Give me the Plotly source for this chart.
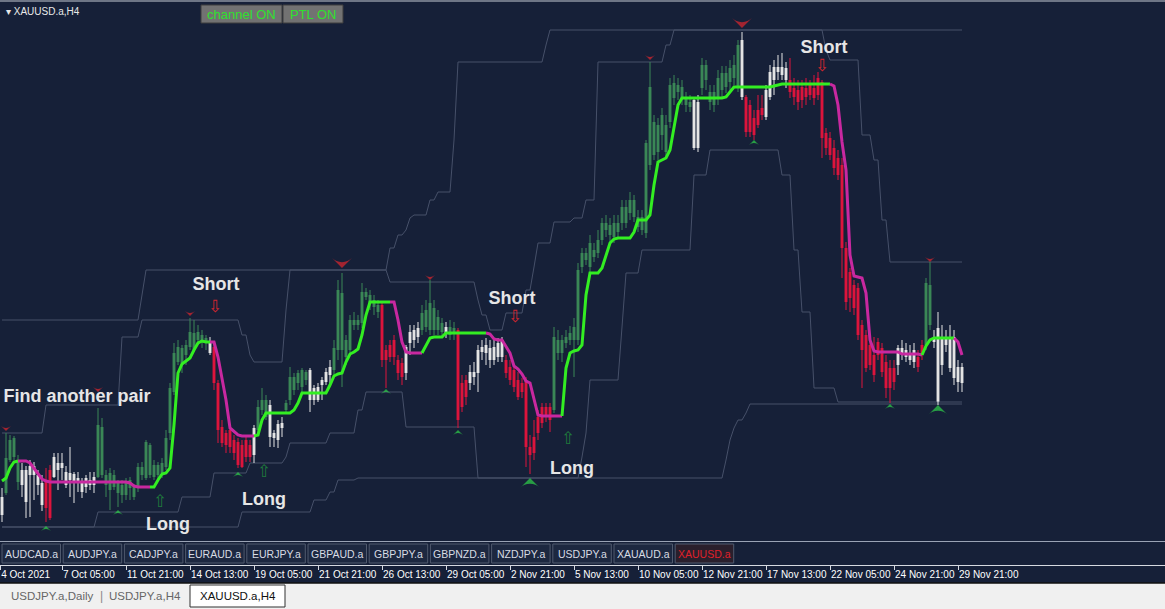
import plotly.graph_objects as go

W, H = 1165, 609
NAVY = "#162038"
GREEN_C = "#3b8757"
WHITE_C = "#e4e4e4"
RED_C = "#dc143c"
PTL_UP = "#33ee22"
PTL_DN = "#c828a0"
CHAN = "#465069"

# ---------------- data (price points) ----------------
# candle colour class per bar, run-length encoded: (class, count)
candle_class_runs = [("w", 1), ("g", 4), ("w", 6), ("r", 2), ("w", 11), ("g", 28), ("w", 1),
                     ("r", 10), ("w", 1), ("g", 3), ("w", 4), ("g", 6), ("w", 6), ("g", 12),
                     ("r", 6), ("w", 4), ("g", 6), ("w", 1), ("g", 2), ("r", 3), ("w", 9),
                     ("r", 12), ("g", 35), ("w", 2), ("g", 10), ("w", 1), ("r", 5), ("w", 6),
                     ("r", 27), ("w", 5), ("r", 2), ("g", 2), ("w", 8)]

open_ = [103,107,140,143,118,130,130,134,134,125,117,120,130,143,137,137,128,127,126,122,
         118,122,120,123,123,125,115,110,113,107,105,105,112,103,112,125,122,125,123,125,
         127,133,167,208,238,237,245,253,250,260,258,257,258,253,217,173,167,170,160,158,
         155,160,155,145,170,190,183,195,167,176,177,190,200,210,217,213,220,230,212,213,
         220,228,233,230,250,307,243,250,275,275,277,303,297,293,288,295,250,255,260,240,
         237,227,257,260,263,270,273,270,270,270,268,273,265,267,270,217,220,217,223,227,
         248,255,252,253,257,260,240,233,230,220,217,220,153,163,183,193,193,193,190,260,
         247,257,260,260,260,333,347,333,350,347,360,377,365,363,377,377,393,387,400,383,
         370,367,435,478,448,465,475,478,502,515,502,502,493,500,452,512,535,498,508,502,
         510,513,518,522,512,560,503,495,482,490,492,483,503,520,528,533,532,520,512,510,
         513,512,515,512,522,518,467,462,452,442,435,352,328,315,312,275,265,255,245,258,
         252,238,232,232,235,252,250,247,238,243,255,255,275,262,198,262,263,232,263,233,
         217]
high = [112,167,165,164,145,137,134,140,138,130,125,132,135,147,147,147,134,153,128,128,
        122,125,128,128,192,182,130,132,130,120,120,122,123,116,137,138,160,157,140,138,
        142,170,217,257,260,255,260,282,280,275,270,265,263,258,220,180,170,172,165,162,
        160,165,160,175,200,212,205,200,170,180,183,200,233,227,230,232,230,232,215,217,
        223,232,240,260,320,327,265,285,288,285,317,312,310,305,300,298,255,260,265,245,
        242,255,275,275,278,295,300,320,300,290,282,278,280,278,272,225,225,235,238,255,
        260,262,260,260,262,263,245,240,235,228,222,223,165,180,190,197,197,197,273,270,
        265,270,274,282,337,352,352,365,357,370,382,385,382,385,385,400,400,408,405,390,
        390,460,538,485,482,492,485,522,525,522,520,508,505,503,505,542,540,515,515,530,
        534,534,540,545,560,568,505,500,490,505,505,515,535,540,545,547,538,542,522,520,
        520,522,520,525,528,520,472,468,460,450,442,358,332,320,317,280,270,260,263,262,
        257,245,240,240,255,260,257,255,257,250,260,322,338,270,288,275,270,275,270,240,
        237]
low = [78,105,138,140,110,103,82,83,100,105,89,78,80,122,110,120,112,103,97,108,
       102,107,110,107,122,122,103,90,110,93,97,100,100,100,108,120,120,122,120,120,
       122,130,160,205,235,227,235,250,248,255,252,250,245,210,157,153,147,147,140,132,
       132,138,138,137,165,185,180,153,153,152,163,188,195,205,210,208,215,188,195,198,
       200,215,215,225,240,213,235,245,270,270,272,300,290,285,282,233,212,238,235,220,
       215,220,245,252,257,265,268,265,265,265,262,262,260,260,172,188,195,210,215,208,
       240,235,232,235,238,238,222,215,208,200,202,133,126,140,160,172,178,168,187,240,
       238,252,255,223,255,327,335,328,338,342,355,363,355,357,363,370,372,380,378,368,
       365,362,430,440,440,450,442,472,495,500,495,488,488,450,448,505,510,490,488,495,
       503,507,510,515,508,500,463,463,460,472,480,480,500,505,520,520,512,502,495,490,
       492,495,500,495,500,442,445,440,425,420,322,290,288,285,260,212,228,230,218,240,
       223,202,197,210,225,240,238,235,232,228,240,250,270,252,195,225,248,228,215,208,
       208]
close = [85,142,160,162,138,115,98,125,125,115,95,92,82,123,130,132,115,120,118,117,
         108,113,115,115,175,173,125,127,125,117,115,117,120,113,133,133,158,155,135,135,
         137,162,212,247,253,252,255,268,267,268,265,262,247,217,170,157,155,153,147,135,
         133,143,143,172,193,200,200,163,162,160,172,197,223,223,227,230,228,200,200,200,
         215,218,225,252,310,250,260,280,280,280,308,308,305,300,295,240,240,243,243,227,
         223,253,268,270,272,287,290,297,292,283,277,267,273,272,180,193,203,228,228,250,
         253,247,240,240,243,243,227,220,213,203,208,153,145,147,167,177,183,180,263,247,
         260,263,267,273,330,347,340,357,343,360,377,370,375,377,368,393,377,400,383,373,
         383,457,513,445,475,485,448,515,517,508,513,495,498,452,498,535,520,508,495,522,
         527,527,532,535,555,503,468,468,465,475,485,510,528,533,533,525,520,508,503,498,
         500,503,505,502,505,462,452,445,432,425,352,298,302,292,265,250,232,235,225,245,
         228,212,212,218,252,247,243,240,250,233,245,317,315,258,272,235,255,262,222,218,
         233]

# PTL line value per bar, run-length encoded: (value, count)
ptl_value_runs = [(119,1),(122,1),(132,1),(138,1),(139,3),(137,1),(132,1),(126,1),(121,1),(119,1),
                  (118,20),(117,1),(114,1),(113,5),(120,1),(126,1),(127,1),(132,1),(175,1),(227,1),
                  (236,1),(239,1),(242,1),(250,1),(257,1),(259,1),(258,3),(243,1),(223,1),(200,1),
                  (172,1),(168,1),(165,1),(164,4),(165,1),(180,1),(187,7),(190,1),(197,1),(207,7),
                  (215,1),(224,1),(226,1),(227,1),(238,1),(246,1),(248,1),(251,1),(265,1),(285,1),
                  (298,7),(280,1),(258,1),(248,1),(247,4),(255,1),(262,1),(263,3),(267,11),
                  (266,1),(261,1),(260,2),(254,1),(247,1),(234,1),(231,1),(226,1),(219,1),(217,1),
                  (202,1),(185,1),(184,6),(232,1),(247,1),(249,1),(250,1),(255,1),(305,1),(327,3),
                  (332,1),(345,1),(357,1),(361,1),(362,4),(368,1),(380,3),(385,1),(415,1),(438,1),
                  (440,1),(442,1),(450,1),(472,1),(495,1),(502,11),(503,1),(508,1),(513,10),
                  (514,1),(515,1),(516,13),(514,1),(495,1),(458,1),(430,1),(345,1),(324,1),(323,1),
                  (322,1),(307,1),(260,1),(249,1),(248,6),(246,5),(245,1),(254,1),(260,1),(262,6),
                  (258,1),(245,1)]
# PTL trend per bar, run-length encoded: ("u" up / "d" down, count)
ptl_trend_runs = [("u", 5), ("d", 33), ("u", 15), ("d", 11), ("u", 34), ("d", 8), ("u", 16),
                  ("d", 19), ("u", 67), ("d", 23), ("u", 8), ("d", 2)]

# channel lines: (first bar of a run, level)
upper_slow = [(0, 280), (35, 305), (36, 330), (97, 352), (99, 365), (101, 370), (102, 382),
              (103, 385), (107, 400), (109, 408), (113, 460), (114, 538), (136, 555), (137, 570)]
upper_fast = [(0, 167), (11, 195), (30, 263), (35, 280), (60, 265), (62, 245), (63, 238),
              (71, 290), (72, 330), (97, 318), (119, 300), (120, 285), (122, 270), (126, 287),
              (131, 310), (133, 333), (134, 357), (138, 378), (143, 382), (146, 400), (149, 538),
              (166, 555), (168, 570), (206, 550), (207, 540), (215, 465), (218, 440), (220, 380),
              (222, 338)]
lower_fast = [(0, 73), (24, 88), (45, 103), (53, 127), (62, 137), (71, 143), (72, 157),
              (82, 167), (89, 190), (91, 208), (101, 173), (119, 122), (145, 143), (146, 167),
              (147, 220), (155, 273), (156, 327), (160, 350), (173, 425), (177, 450), (195, 425),
              (198, 350), (200, 288), (203, 212), (209, 198)]
lower_slow = [(0, 73), (60, 88), (78, 100), (82, 108), (84, 120), (89, 122), (181, 140),
              (182, 160), (183, 172), (184, 180), (186, 187), (187, 196)]

# signal arrows
sig_dn_bar = [1, 24, 47, 85, 107, 162, 185, 232]
sig_dn_price = [169, 208, 284, 332, 320, 540, 572, 338]
sig_dn_size = [7, 7, 7, 14, 7, 7, 14, 7]
sig_up_bar = [11, 29, 59, 96, 114, 132, 188, 222, 234]
sig_up_price = [74, 90, 128, 211, 170, 122, 460, 196, 195]
sig_up_size = [7, 7, 7, 7, 7, 14, 7, 7, 14]

hollow_up_bar = [39.5, 65.5, 141.5]
hollow_up_price = [97, 127, 160]
hollow_dn_bar = [53.25, 128.25, 205]
hollow_dn_price = [292, 282, 533]

label_text = ["Find another pair", "Short", "Long", "Long", "Short", "Long", "Short"]
label_bar = [18.75, 53.5, 41.5, 65.5, 127.5, 142.5, 205.5]
label_price = [203, 315, 75, 100, 301, 131, 552]

tick_bar = [-0.45, 15, 31, 47, 63, 79, 95, 111, 127, 143, 159, 175, 191, 207, 223, 239]
tick_text = ["4 Oct 2021", "7 Oct 05:00", "11 Oct 21:00", "14 Oct 13:00", "19 Oct 05:00",
             "21 Oct 21:00", "26 Oct 13:00", "29 Oct 05:00", "2 Nov 21:00", "5 Nov 13:00",
             "10 Nov 05:00", "12 Nov 21:00", "17 Nov 13:00", "22 Nov 05:00", "24 Nov 21:00",
             "29 Nov 21:00"]

symbol_tabs = ["AUDCAD.a", "AUDJPY.a", "CADJPY.a", "EURAUD.a", "EURJPY.a", "GBPAUD.a",
               "GBPJPY.a", "GBPNZD.a", "NZDJPY.a", "USDJPY.a", "XAUAUD.a", "XAUUSD.a"]
active_symbol = "XAUUSD.a"
window_tabs = ["USDJPY.a,Daily", "USDJPY.a,H4", "XAUUSD.a,H4"]

n = len(open_)


def rle(runs):
    out = []
    for v, c in runs:
        out += [v] * c
    return out


candle_class = rle(candle_class_runs)
ptl_value = rle(ptl_value_runs)
ptl_trend = rle(ptl_trend_runs)
candle_class = (candle_class + [candle_class[-1]] * n)[:n]
ptl_value = (ptl_value + [ptl_value[-1]] * n)[:n]
ptl_trend = (ptl_trend + [ptl_trend[-1]] * n)[:n]


def expand(runs):
    vals = [None] * n
    for k, (s, v) in enumerate(runs):
        e = runs[k + 1][0] if k + 1 < len(runs) else n
        for i in range(s, min(e, n)):
            vals[i] = v
    return vals


fig = go.Figure()

# channel lines
for runs in (upper_slow, upper_fast, lower_fast, lower_slow):
    fig.add_trace(go.Scatter(x=list(range(n)), y=expand(runs), mode="lines",
                             line=dict(color=CHAN, width=1), hoverinfo="skip",
                             connectgaps=False))

# candles
for cls, col in (("g", GREEN_C), ("w", WHITE_C), ("r", RED_C)):
    ids = [i for i in range(n) if candle_class[i] == cls]
    wx, wy = [], []
    for i in ids:
        wx += [i, i, None]
        wy += [low[i], high[i], None]
    fig.add_trace(go.Scatter(x=wx, y=wy, mode="lines", line=dict(color=col, width=1),
                             hoverinfo="skip"))
    fig.add_trace(go.Bar(x=ids,
                         y=[max(abs(open_[i] - close[i]), 1) for i in ids],
                         base=[min(open_[i], close[i]) for i in ids],
                         width=0.72, marker=dict(color=col, line=dict(width=0)),
                         hoverinfo="skip"))

# PTL line, coloured by trend
start = 0
for i in range(1, n + 1):
    if i == n or ptl_trend[i] != ptl_trend[start]:
        xs = list(range(max(start - 1, 0), i))
        fig.add_trace(go.Scatter(x=xs, y=[ptl_value[j] for j in xs], mode="lines",
                                 line=dict(color=PTL_UP if ptl_trend[start] == "u" else PTL_DN,
                                           width=3), hoverinfo="skip"))
        start = i

# signal arrows
fig.add_trace(go.Scatter(x=sig_dn_bar, y=sig_dn_price, mode="markers",
                         marker=dict(symbol="arrow-wide", angle=180, size=sig_dn_size,
                                     color="#e0262e", line=dict(width=0)), hoverinfo="skip"))
fig.add_trace(go.Scatter(x=sig_up_bar, y=sig_up_price, mode="markers",
                         marker=dict(symbol="arrow-wide", angle=0, size=sig_up_size,
                                     color="#2fd34a", line=dict(width=0)), hoverinfo="skip"))
fig.add_trace(go.Scatter(x=hollow_up_bar, y=hollow_up_price, mode="text", text=["⇧"] * 3,
                         textfont=dict(family="DejaVu Sans", size=17, color="#1f7a3c"),
                         hoverinfo="skip"))
fig.add_trace(go.Scatter(x=hollow_dn_bar, y=hollow_dn_price, mode="text", text=["⇩"] * 3,
                         textfont=dict(family="DejaVu Sans", size=17, color="#d0262e"),
                         hoverinfo="skip"))
fig.add_trace(go.Scatter(x=label_bar, y=label_price, mode="text",
                         text=["<b>%s</b>" % t for t in label_text],
                         textfont=dict(family="Liberation Sans, Arial", size=18, color="#e6e6e6"),
                         hoverinfo="skip"))


# ---------------- chrome ----------------
def PX(x):
    return x / W


def PY(y):
    return 1 - y / H


def text_at(x, y, s, size, color, anchor="center", family="Liberation Sans, Arial"):
    return dict(x=PX(x), y=PY(y), xref="paper", yref="paper", xanchor=anchor,
                yanchor="middle", text=s, showarrow=False,
                font=dict(family=family, size=size, color=color))


shapes = []
ann = []
shapes.append(dict(type="line", xref="paper", yref="paper", x0=0, x1=1, y0=PY(1), y1=PY(1),
                   line=dict(color="#8c93a0", width=1.5), layer="above"))
ann.append(text_at(4, 12, "▾ XAUUSD.a,H4", 10, "#e8e8e8", anchor="left"))
for label, x0, x1 in (("channel ON", 201, 282), ("PTL ON", 283, 343)):
    shapes.append(dict(type="rect", xref="paper", yref="paper", x0=PX(x0), x1=PX(x1),
                       y0=PY(23), y1=PY(5), fillcolor="#727272",
                       line=dict(color="#3c3c3c", width=1), layer="above"))
    ann.append(text_at((x0 + x1) / 2, 14.5, label, 13, "#2fe02f"))

# symbol tab row
shapes.append(dict(type="rect", xref="paper", yref="paper", x0=0, x1=1, y0=PY(564), y1=PY(540),
                   fillcolor=NAVY, line=dict(width=0), layer="above"))
shapes.append(dict(type="line", xref="paper", yref="paper", x0=0, x1=1, y0=PY(541.5),
                   y1=PY(541.5), line=dict(color="#9aa3b5", width=1), layer="above"))
tab_x = 2
for s in symbol_tabs:
    w = 58.5
    act = s == active_symbol
    shapes.append(dict(type="rect", xref="paper", yref="paper", x0=PX(tab_x), x1=PX(tab_x + w),
                       y0=PY(563), y1=PY(544),
                       fillcolor="#2a1f2c" if act else "#1d2840",
                       line=dict(color="#505a6e", width=1), layer="above"))
    ann.append(text_at(tab_x + w / 2, 554, s, 10.5, "#e0202a" if act else "#d8dce4"))
    tab_x += w + 2.7

# date strip below axis
shapes.append(dict(type="rect", xref="paper", yref="paper", x0=0, x1=1, y0=PY(583), y1=PY(565),
                   fillcolor=NAVY, line=dict(width=0), layer="below"))
shapes.append(dict(type="line", xref="paper", yref="paper", x0=0, x1=1, y0=PY(583), y1=PY(583),
                   line=dict(color="#101010", width=1.5), layer="above"))

# window tabs at the bottom
ann.append(text_at(52, 596, window_tabs[0], 11.5, "#666666"))
ann.append(text_at(101, 596, "|", 12, "#888888"))
ann.append(text_at(145, 596, window_tabs[1], 11.5, "#666666"))
shapes.append(dict(type="rect", xref="paper", yref="paper", x0=PX(190), x1=PX(285),
                   y0=PY(607), y1=PY(585), fillcolor="#ffffff",
                   line=dict(color="#303030", width=1), layer="above"))
ann.append(text_at(237.5, 596, window_tabs[2], 11.5, "#111111"))

fig.update_layout(
    width=W, height=H, margin=dict(l=0, r=0, t=0, b=0),
    paper_bgcolor="#f0f0f0", plot_bgcolor=NAVY, showlegend=False, barmode="overlay",
    shapes=shapes, annotations=ann,
    xaxis=dict(range=[-0.5, (W - 2) / 4], showgrid=False, zeroline=False, showline=True,
               linecolor="#d6d9e0", linewidth=1, ticks="outside", ticklen=4,
               tickcolor="#d6d9e0", tickvals=tick_bar, ticktext=tick_text, tickangle=0,
               ticklabelposition="outside right", automargin=False,
               tickfont=dict(family="Liberation Sans, Arial", size=10, color="#ffffff")),
    yaxis=dict(range=[35, 600], domain=[(H - 565) / H, 1], showgrid=False, zeroline=False,
               showticklabels=False, showline=False, automargin=False),
)

fig.write_html("out.html", config={"displayModeBar": False},
               post_script="document.body.style.margin='0';document.body.style.overflow='hidden';")
